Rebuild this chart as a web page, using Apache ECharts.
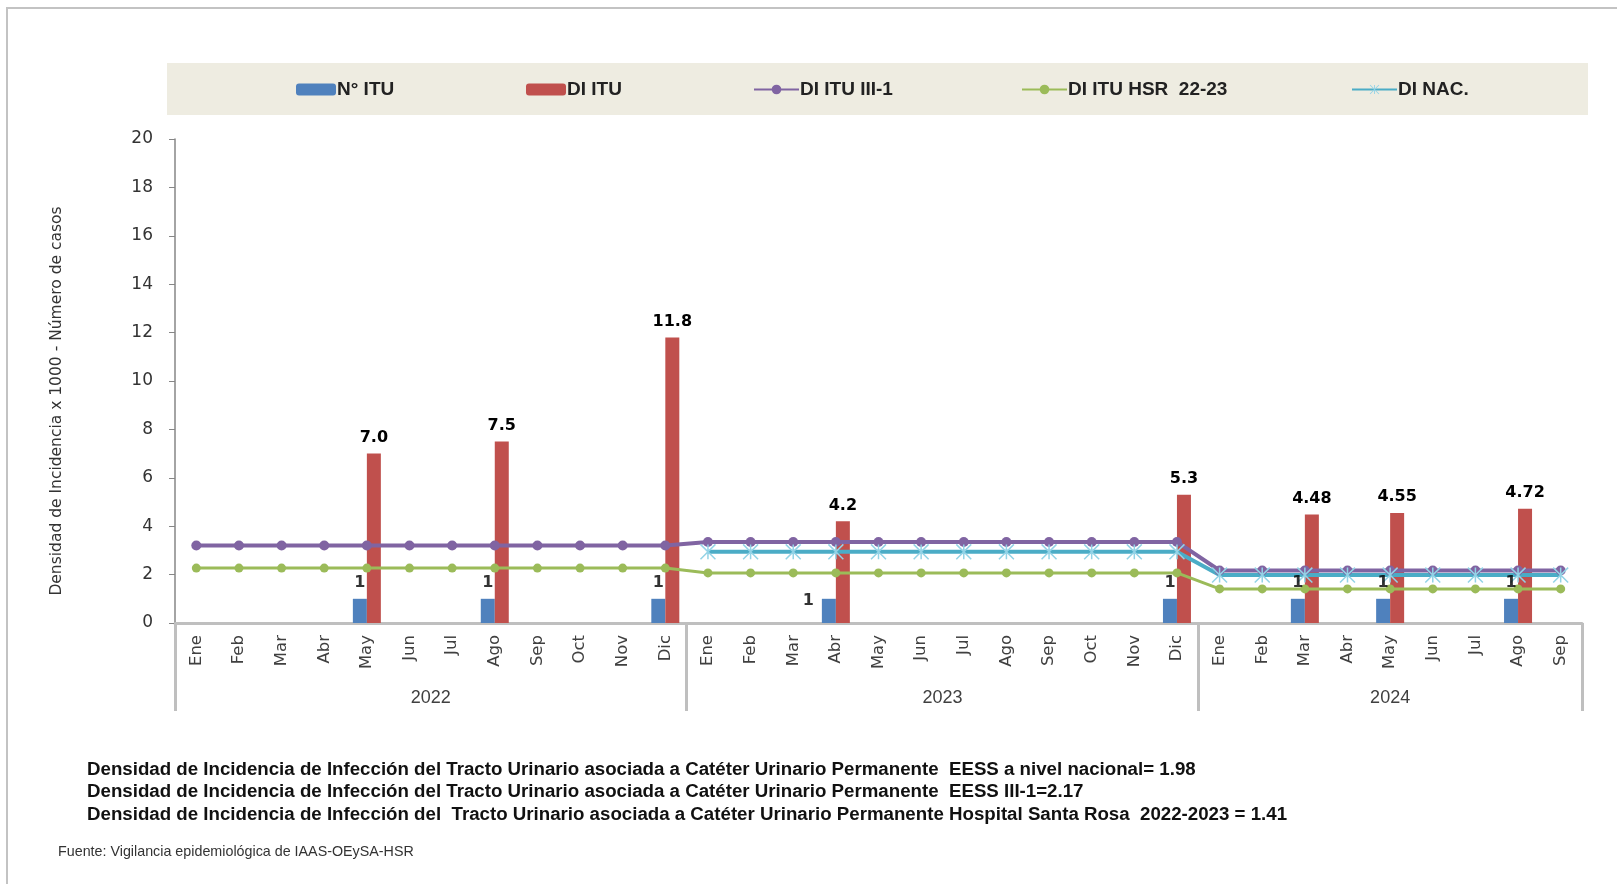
<!DOCTYPE html>
<html>
<head>
<meta charset="utf-8">
<script src="https://cdn.jsdelivr.net/npm/echarts@6/dist/echarts.min.js"></script>
<style>
    html, body { margin: 0; padding: 0; background: #fff; }
    #chart { width: 1617px; height: 884px; }
</style>
</head>
<body>
<div id="chart"></div>
<script>
// 月份（类目）
const months = ['Ene','Feb','Mar','Abr','May','Jun','Jul','Ago','Sep','Oct','Nov','Dic',
                'Ene','Feb','Mar','Abr','May','Jun','Jul','Ago','Sep','Oct','Nov','Dic',
                'Ene','Feb','Mar','Abr','May','Jun','Jul','Ago','Sep'];
const years = ['2022', '2023', '2024'];
const monthsPerYear = [12, 12, 9];

// N° ITU
const nItu = [null,null,null,null,1,null,null,1,null,null,null,1,
              null,null,null,1,null,null,null,null,null,null,null,1,
              null,null,1,null,1,null,null,1,null];
// DI ITU
const diItu = [null,null,null,null,7.0,null,null,7.5,null,null,null,11.8,
               null,null,null,4.2,null,null,null,null,null,null,null,5.3,
               null,null,4.48,null,4.55,null,null,4.72,null];
// DI ITU III-1
const diItu3 = [3.2,3.2,3.2,3.2,3.2,3.2,3.2,3.2,3.2,3.2,3.2,3.2,
                3.35,3.35,3.35,3.35,3.35,3.35,3.35,3.35,3.35,3.35,3.35,3.35,
                2.17,2.17,2.17,2.17,2.17,2.17,2.17,2.17,2.17];
// DI ITU HSR 22-23
const diHsr = [2.27,2.27,2.27,2.27,2.27,2.27,2.27,2.27,2.27,2.27,2.27,2.27,
               2.07,2.07,2.07,2.07,2.07,2.07,2.07,2.07,2.07,2.07,2.07,2.07,
               1.41,1.41,1.41,1.41,1.41,1.41,1.41,1.41,1.41];
// DI NAC.
const diNac = [null,null,null,null,null,null,null,null,null,null,null,null,
               2.94,2.94,2.94,2.94,2.94,2.94,2.94,2.94,2.94,2.94,2.94,2.94,
               1.98,1.98,1.98,1.98,1.98,1.98,1.98,1.98,1.98];

const yTicks = [0, 2, 4, 6, 8, 10, 12, 14, 16, 18, 20];

const notes = [
    'Densidad de Incidencia de Infección del Tracto Urinario asociada a Catéter Urinario Permanente  EESS a nivel nacional= 1.98',
    'Densidad de Incidencia de Infección del Tracto Urinario asociada a Catéter Urinario Permanente  EESS III-1=2.17',
    'Densidad de Incidencia de Infección del  Tracto Urinario asociada a Catéter Urinario Permanente Hospital Santa Rosa  2022-2023 = 1.41'
];
const source = 'Fuente: Vigilancia epidemiológica de IAAS-OEySA-HSR';

const narrow = "'Liberation Sans Narrow', 'Liberation Sans', sans-serif";
const verdana = "'DejaVu Sans', Verdana, sans-serif";

// 年份分隔与居中位置
const bounds = [0];
monthsPerYear.forEach(n => bounds.push(bounds[bounds.length - 1] + n));
const centers = years.map((y, i) => (bounds[i] + bounds[i + 1]) / 2);

const asterisk = 'path://M-1,-10L1,-10L1,10L-1,10Z' +
    'M-9.3,-10.7L10.7,9.3L9.3,10.7L-10.7,-9.3Z' +
    'M9.3,-10.7L10.7,-9.3L-9.3,10.7L-10.7,9.3Z';

const chart = echarts.init(document.getElementById('chart'));

const legendNames = ['N° ITU', 'DI ITU', 'DI ITU III-1', 'DI ITU HSR  22-23', 'DI NAC.'];
const legendLeft = [296, 526, 753, 1021, 1351];

const labelFont = { fontFamily: verdana, fontWeight: 'bold', fontSize: 16, color: '#000' };

const option = {
    animation: false,
    backgroundColor: '#fff',
    graphic: [
        { type: 'rect', shape: { x: 7, y: 8, width: 1700, height: 950 },
          style: { fill: 'none', stroke: '#c3c3c3', lineWidth: 2 }, z: -1 },
        { type: 'rect', shape: { x: 167, y: 63, width: 1421, height: 52 },
          style: { fill: '#eeece1' }, z: -1 },
        { type: 'text', x: 57, y: 401, rotation: Math.PI / 2,
          style: { text: 'Densidad de Incidencia x 1000 - Número de casos', font: '15.5px ' + verdana,
                   fill: '#333', align: 'center', verticalAlign: 'middle' } },
        ...notes.map((t, i) => ({
            type: 'text', left: 87, top: 760 + i * 22.5,
            style: { text: t, font: 'bold 18.7px ' + narrow, fill: '#111' }
        })),
        { type: 'text', left: 58, top: 845,
          style: { text: source, font: '14.3px ' + narrow, fill: '#333' } }
    ],
    legend: legendNames.map((n, i) => ({
        data: [n],
        left: legendLeft[i],
        top: 80,
        itemWidth: i < 2 ? 40 : 45,
        itemHeight: 12,
        itemGap: 0,
        padding: 0,
        textStyle: { fontFamily: narrow, fontWeight: 'bold', fontSize: 19, color: '#222', padding: [0, 0, 0, -4] }
    })),
    grid: { left: 175, right: 35, top: 139, bottom: 261, outerBoundsMode: 'none' },
    xAxis: [{
        type: 'category',
        data: months,
        axisLine: { lineStyle: { color: '#bfbfbf', width: 3 } },
        axisTick: { show: false },
        axisLabel: { rotate: 90, margin: 12, fontFamily: verdana, fontSize: 16.5, color: '#404040', interval: 0 }
    }, {
        type: 'value',
        position: 'bottom',
        offset: 0,
        min: 0,
        max: bounds[bounds.length - 1],
        axisLine: { show: false },
        splitLine: { show: false },
        axisTick: { show: true, customValues: bounds, length: 88, lineStyle: { color: '#bfbfbf', width: 3 } },
        axisLabel: {
            customValues: centers, margin: 66, fontFamily: narrow, fontSize: 18, color: '#404040',
            formatter: v => years[centers.indexOf(v)] || ''
        }
    }],
    yAxis: {
        type: 'value',
        min: 0, max: 20, interval: 2,
        splitLine: { show: false },
        axisLine: { show: true, lineStyle: { color: '#868686', width: 1.5 } },
        axisTick: { show: true, length: 6, lineStyle: { color: '#868686' } },
        axisLabel: { margin: 22, fontFamily: verdana, fontSize: 17, color: '#333',
                     customValues: yTicks }
    },
    series: [{
        name: 'N° ITU', type: 'bar', barWidth: 14, barGap: '0%',
        itemStyle: { color: '#4f81bd' },
        data: nItu,
        z: 2
    }, {
        name: 'DI ITU', type: 'bar', barWidth: 14,
        itemStyle: { color: '#c0504d' },
        data: diItu,
        label: Object.assign({ show: true, position: 'top', distance: 8,
                 formatter: p => Math.round(p.value * 10) === p.value * 10 ? p.value.toFixed(1) : String(p.value) },
                 labelFont),
        z: 2
    }, {
        name: 'DI ITU III-1', type: 'line', data: diItu3,
        symbol: 'circle', symbolSize: 10,
        lineStyle: { color: '#8064a2', width: 4 },
        itemStyle: { color: '#8064a2' },
        z: 3
    }, {
        name: 'DI ITU HSR  22-23', type: 'line', data: diHsr,
        symbol: 'circle', symbolSize: 9,
        lineStyle: { color: '#9bbb59', width: 3 },
        itemStyle: { color: '#9bbb59' },
        z: 3
    }, {
        name: 'DI NAC.', type: 'line', data: diNac,
        symbol: asterisk, symbolSize: 16,
        lineStyle: { color: '#4bacc6', width: 4 },
        itemStyle: { color: '#93d3e6' },
        z: 3
    }, {
        // N° ITU 的数据标签（置于折线之上）
        name: 'N° ITU label', type: 'scatter', data: nItu.map((v, i) => (v != null && i === 15)
            ? { value: v, label: { position: 'left', distance: 22, offset: [0, 2] } } : v),
        symbolSize: 0, silent: true,
        label: Object.assign({ show: true, position: 'top', distance: 8, offset: [-7, 0] }, labelFont),
        z: 6
    }]
};

chart.setOption(option);
</script>
</body>
</html>
